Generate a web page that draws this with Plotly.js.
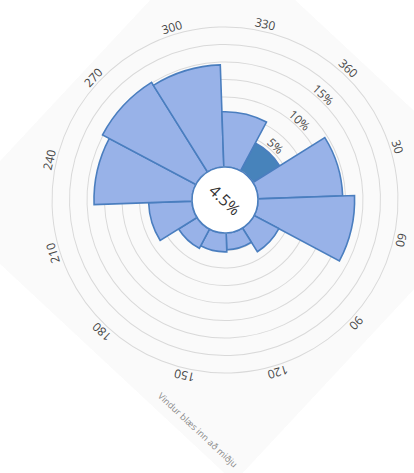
<!DOCTYPE html>
<html>
<head>
<meta charset="utf-8">
<script src="https://cdn.plot.ly/plotly-3.0.1.min.js"></script>
<style>
  html, body { margin:0; padding:0; background:#ffffff; width:414px; height:473px; overflow:hidden; }
  #wrap { position:absolute; left:34.3px; top:5.5px; width:390px; height:394px;
          transform-origin:191px 194px; transform:rotate(43deg); background:#fafafa; }
  #chart { width:390px; height:394px; }
</style>
</head>
<body>
<div id="wrap"><div id="chart"></div></div>
<script>
// ---- data ----
const directions = [0, 30, 60, 90, 120, 150, 180, 210, 240, 270, 300, 330];
const frequency = [4.5, 12.1, 13.8, 4.0, 2.4, 2.7, 3.1, 6.2, 14.0, 15.1, 14.6, 7.9];
const angularLabels = ['360', '30', '60', '90', '120', '150', '180', '210', '240', '270', '300', '330'];
const radialGrid = [0, 2.5, 5, 7.5, 10, 12.5, 15, 17.5, 20];
const radialLabelValues = [5, 10, 15];
const radialLabelText = ['5%', '10%', '15%'];
const highlightedDirection = 0;
const centerText = '4.5%';
const noteText = 'Vindur blæs inn að miðju';

// ---- geometry / style ----
const W = 390, H = 394;
const cx = 191, cy = 194, R = 173;
const holeFrac = 33 / 173;
const labelGap = 7.5;
const fillColor = '#98b2e8', lineColor = '#4a7ebf', hiColor = '#4783bb';
const gridColor = '#d9d9d9';
const font = 'Open Sans, Noto Sans, sans-serif';

const barColors = directions.map(d => d === highlightedDirection ? hiColor : fillColor);

const bars = {
  type: 'barpolar',
  theta: directions,
  r: frequency,
  width: directions.map(() => 30),
  marker: { color: barColors, line: { color: lineColor, width: 1.6 } },
  hoverinfo: 'none',
  showlegend: false
};

const radialLabels = {
  type: 'scatterpolar',
  mode: 'text',
  theta: radialLabelValues.map(() => 0),
  r: radialLabelValues.map(v => v + 0.65),
  text: radialLabelText,
  textposition: 'middle center',
  textfont: { family: font, size: 12, color: '#444' },
  hoverinfo: 'none',
  showlegend: false
};

const px2x = p => p / W;
const py2y = p => 1 - p / H;

const annotations = angularLabels.map((t, i) => {
  const a = directions[i] * Math.PI / 180;
  const rr = R + labelGap;
  let ang = directions[i];
  if (ang > 180) ang -= 360;
  return {
    xref: 'paper', yref: 'paper',
    x: px2x(cx + rr * Math.sin(a)), y: py2y(cy - rr * Math.cos(a)),
    xanchor: 'center', yanchor: 'middle',
    text: t, showarrow: false, textangle: ang,
    font: { family: font, size: 12, color: '#444' }
  };
});
annotations.push({
  xref: 'paper', yref: 'paper', x: px2x(cx), y: py2y(cy),
  xanchor: 'center', yanchor: 'middle', showarrow: false,
  text: centerText, font: { family: font, size: 16, color: '#333' }
});

const rh = R * holeFrac;
const layout = {
  width: W, height: H,
  margin: { l: 0, r: 0, t: 0, b: 0, pad: 0 },
  paper_bgcolor: '#fafafa',
  showlegend: false,
  title: {
    text: noteText, xref: 'paper', yref: 'paper', x: 328 / W, y: 1 - 381 / H,
    xanchor: 'center', yanchor: 'middle',
    font: { family: font, size: 9, color: '#8a8a8a' }
  },
  polar: {
    domain: { x: [(cx - R) / W, (cx + R) / W], y: [1 - (cy + R) / H, 1 - (cy - R) / H] },
    bgcolor: '#fafafa',
    hole: holeFrac,
    radialaxis: {
      range: [0, 20], tickvals: radialGrid, showticklabels: false, ticks: '',
      showline: false, gridcolor: gridColor, gridwidth: 1
    },
    angularaxis: {
      direction: 'clockwise', rotation: 90, showgrid: false, showticklabels: false,
      ticks: '', showline: true, linecolor: gridColor, linewidth: 1
    }
  },
  shapes: [{
    type: 'circle', xref: 'paper', yref: 'paper', layer: 'above',
    x0: px2x(cx - rh), x1: px2x(cx + rh), y0: py2y(cy + rh), y1: py2y(cy - rh),
    fillcolor: '#ffffff', line: { color: lineColor, width: 1.6 }
  }],
  annotations: annotations
};

Plotly.newPlot('chart', [bars, radialLabels], layout, { staticPlot: true, displayModeBar: false });
</script>
</body>
</html>
